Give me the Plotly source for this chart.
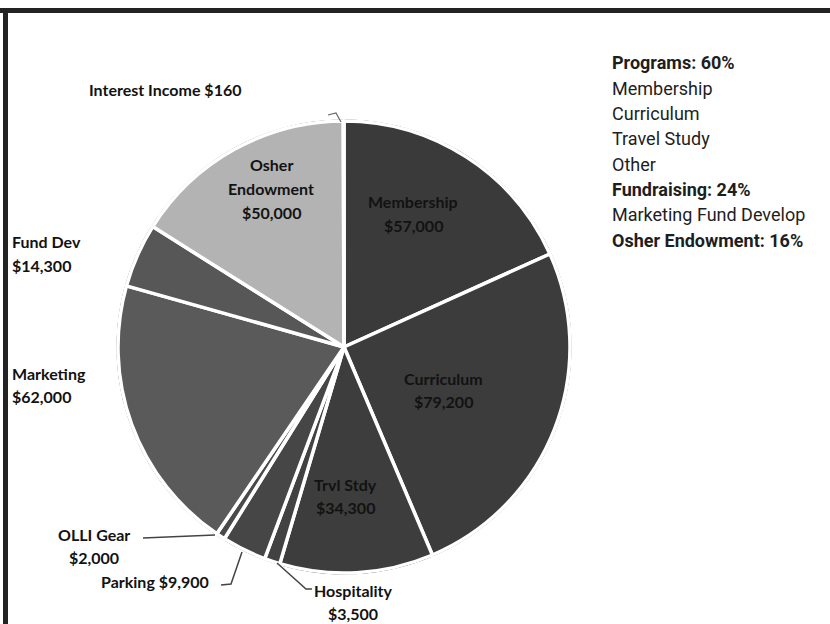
import plotly.graph_objects as go

W, H = 830, 624

# ---- data ----
categories = ["Membership", "Curriculum", "Trvl Stdy", "Hospitality", "Parking",
              "OLLI Gear", "Marketing", "Fund Dev", "Osher Endowment", "Interest Income"]
values = [57000, 79200, 34300, 3500, 9900, 2000, 62000, 14300, 50000, 160]
label_names = ["Membership", "Curriculum", "Trvl Stdy", "Hospitality", "Parking",
               "OLLI Gear", "Marketing", "Fund Dev", "Osher|Endowment", "Interest Income"]
summary_lines = ["Programs: 60%", "Membership", "Curriculum", "Travel Study", "Other",
                 "Fundraising: 24%", "Marketing Fund Develop", "Osher Endowment: 16%"]
summary_bold = [True, False, False, False, False, True, False, True]

# ---- style ----
colors = ["#3a3a3a", "#3c3c3c", "#3d3d3d", "#424242", "#464646",
          "#4a4a4a", "#5a5a5a", "#575757", "#b3b3b3", "#6a6a6a"]

cx, cy, r = 344, 347, 226

def px(x):
    return x / W

def py(y):
    return 1 - y / H

fig = go.Figure(go.Pie(
    labels=categories, values=values, sort=False, direction="clockwise", rotation=0,
    marker=dict(colors=colors, line=dict(color="white", width=3.5)),
    textinfo="none", hoverinfo="label+value", showlegend=False,
    domain=dict(x=[px(cx - r), px(cx + r)], y=[py(cy + r), py(cy - r)]),
))

# label placement: anchor x, first line y, xanchor, value on its own line
label_layout = {
    "Membership": (413, 202, "center", True),
    "Curriculum": (443, 378, "center", True),
    "Trvl Stdy": (345, 484, "center", True),
    "Hospitality": (353, 590, "center", True),
    "Parking": (155, 581, "center", False),
    "OLLI Gear": (94, 534, "center", True),
    "Marketing": (10, 373, "left", True),
    "Fund Dev": (10, 242, "left", True),
    "Osher Endowment": (271, 165, "center", True),
    "Interest Income": (165, 90, "center", False),
}

LINE = 23.5
annotations = []
for cat, name, val in zip(categories, label_names, values):
    x, y0, xa, split = label_layout[cat]
    money = f"${val:,}"
    if split:
        lines = name.split("|") + [money]
    else:
        lines = [name.replace("|", " ") + " " + money]
    for i, t in enumerate(lines):
        annotations.append(dict(
            x=px(x), y=py(y0 + i * LINE), xref="paper", yref="paper",
            text=t, showarrow=False, xanchor=xa, yanchor="middle",
            font=dict(family="Lato", size=16, color="#121212", weight="bold"),
        ))

# right-hand summary text
for i, (t, b) in enumerate(zip(summary_lines, summary_bold)):
    annotations.append(dict(
        x=px(610), y=py(63 + i * 25.3), xref="paper", yref="paper",
        text=f"<b>{t}</b>" if b else t, showarrow=False, xanchor="left", yanchor="middle",
        font=dict(family="Roboto", size=18, color="#1e1e1e"),
    ))

shapes = [
    # outer frame (top and left)
    dict(type="line", xref="paper", yref="paper", x0=0, x1=1, y0=py(10.5), y1=py(10.5),
         line=dict(color="#232323", width=5)),
    dict(type="line", xref="paper", yref="paper", x0=px(5.5), x1=px(5.5), y0=py(8), y1=0,
         line=dict(color="#232323", width=5)),
    # thin outline of the pie
    dict(type="circle", xref="paper", yref="paper", layer="below",
         x0=px(cx - r - 0.7), x1=px(cx + r + 0.7), y0=py(cy + r + 0.7), y1=py(cy - r - 0.7),
         line=dict(color="#2a2a2a", width=1.5)),
    # leader lines
    dict(type="path", xref="paper", yref="paper",
         path=f"M {px(143)} {py(538)} L {px(215)} {py(535)}",
         line=dict(color="#444", width=1.5)),
    dict(type="path", xref="paper", yref="paper",
         path=f"M {px(221)} {py(585)} L {px(231)} {py(584)} L {px(242)} {py(552)}",
         line=dict(color="#444", width=1.5)),
    dict(type="path", xref="paper", yref="paper",
         path=f"M {px(277)} {py(563)} L {px(306)} {py(589)} L {px(312)} {py(589)}",
         line=dict(color="#444", width=1.5)),
    dict(type="path", xref="paper", yref="paper",
         path=f"M {px(328)} {py(115)} L {px(336)} {py(113)} L {px(341)} {py(122)}",
         line=dict(color="#666", width=1.2)),
]

fig.update_layout(
    width=W, height=H, margin=dict(l=0, r=0, t=0, b=0),
    paper_bgcolor="white", plot_bgcolor="white",
    annotations=annotations, shapes=shapes,
)

fig.write_html("out.html", config={"displayModeBar": False},
               post_script="document.body.style.margin='0px';")
